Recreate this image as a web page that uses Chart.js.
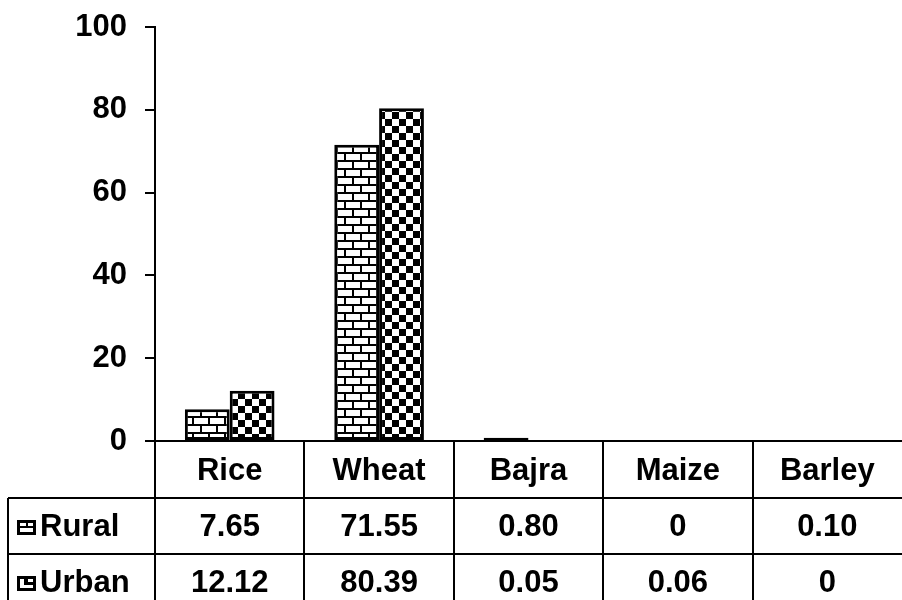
<!DOCTYPE html>
<html>
<head>
<meta charset="utf-8">
<script src="https://cdn.jsdelivr.net/npm/chart.js@4.4.0/dist/chart.umd.min.js"></script>
<style>
  html, body { margin: 0; padding: 0; background: #fff; }
  #wrap { width: 902px; height: 600px; }
</style>
</head>
<body>
<div id="wrap"><canvas id="crops"></canvas></div>
<script>
var crops = ["Rice", "Wheat", "Bajra", "Maize", "Barley"];
var rural = [7.65, 71.55, 0.80, 0, 0.10];
var urban = [12.12, 80.39, 0.05, 0.06, 0];
var seriesNames = ["Rural", "Urban"];
var yTicks = [0, 20, 40, 60, 80, 100];

var FONT = "'Liberation Sans', Arial, sans-serif";
var FSIZE = 31;
var canvas = document.getElementById("crops");
var mainCtx = canvas.getContext("2d");

// excel-ish fill patterns
function brickPattern() {
  var c = document.createElement("canvas");
  c.width = 16; c.height = 16;
  var g = c.getContext("2d");
  g.fillStyle = "#fff"; g.fillRect(0, 0, 16, 16);
  g.fillStyle = "#000";
  g.fillRect(0, 0, 16, 2);
  g.fillRect(0, 8, 16, 2);
  g.fillRect(0, 0, 2, 8);
  g.fillRect(8, 8, 2, 8);
  return mainCtx.createPattern(c, "repeat");
}

function checkerPattern() {
  var c = document.createElement("canvas");
  c.width = 14; c.height = 14;
  var g = c.getContext("2d");
  g.fillStyle = "#fff"; g.fillRect(0, 0, 14, 14);
  g.fillStyle = "#000";
  g.fillRect(0, 0, 7, 7);
  g.fillRect(7, 7, 7, 7);
  return mainCtx.createPattern(c, "repeat");
}

function fmt(v) {
  return v === 0 ? "0" : v.toFixed(2);
}

function drawIcon(ctx, kind, x, y) {
  ctx.fillStyle = "#000";
  ctx.fillRect(x, y - 7, 19, 15);
  ctx.fillStyle = "#fff";
  if (kind === 0) {
    ctx.fillRect(x + 3, y - 4, 6, 3);
    ctx.fillRect(x + 11, y - 4, 5, 3);
    ctx.fillRect(x + 3, y + 1, 13, 4);
  } else {
    ctx.fillRect(x + 3, y - 4, 4, 9);
    ctx.fillRect(x + 11, y - 4, 5, 3);
    ctx.fillRect(x + 7, y + 2, 9, 3);
  }
}

// draws the data table under the plot
var tablePlugin = {
  id: "dataTable",
  afterDraw: function (chart) {
    var ctx = chart.ctx;
    var area = chart.chartArea;
    var xs = chart.scales.x;
    var n = crops.length;
    var colW = (area.right - area.left) / n;
    var top = area.bottom;
    var rowH = 57;
    var leftEdge = 8;
    var rows = [rural, urban];

    ctx.save();
    ctx.strokeStyle = "#000";
    ctx.lineWidth = 2;
    ctx.beginPath();
    for (var i = 0; i < n; i++) {
      var bx = Math.round(xs.getPixelForValue(i) - colW / 2);
      ctx.moveTo(bx, top);
      ctx.lineTo(bx, chart.height);
    }
    ctx.moveTo(leftEdge, top + rowH);
    ctx.lineTo(leftEdge, chart.height);
    ctx.moveTo(leftEdge, top + rowH);
    ctx.lineTo(area.right, top + rowH);
    ctx.moveTo(leftEdge, top + rowH * 2 - 1);
    ctx.lineTo(area.right, top + rowH * 2 - 1);
    ctx.stroke();

    ctx.fillStyle = "#000";
    ctx.font = "bold " + FSIZE + "px " + FONT;
    ctx.textBaseline = "middle";
    ctx.textAlign = "center";
    for (var j = 0; j < n; j++) {
      var cx = xs.getPixelForValue(j);
      ctx.fillText(crops[j], cx, top + 30);
      for (var r = 0; r < rows.length; r++) {
        ctx.fillText(fmt(rows[r][j]), cx, top + 86 + r * 56);
      }
    }
    ctx.textAlign = "left";
    for (var k = 0; k < seriesNames.length; k++) {
      var ry = top + 86 + k * 56;
      drawIcon(ctx, k, 17, ry);
      ctx.fillStyle = "#000";
      ctx.fillText(seriesNames[k], 40, ry);
    }
    ctx.restore();
  }
};

new Chart(canvas, {
  type: "bar",
  data: {
    labels: crops,
    datasets: [
      {
        label: seriesNames[0],
        data: rural,
        backgroundColor: brickPattern(),
        borderColor: "#000",
        borderWidth: 3,
        borderSkipped: false,
        inflateAmount: 0,
      },
      {
        label: seriesNames[1],
        data: urban,
        backgroundColor: checkerPattern(),
        borderColor: "#000",
        borderWidth: 3,
        borderSkipped: false,
        inflateAmount: 0,
      },
    ],
  },
  options: {
    responsive: true,
    maintainAspectRatio: false,
    animation: false,
    events: [],
    categoryPercentage: 0.6,
    barPercentage: 1.0,
    layout: { padding: { top: 27, right: 0, bottom: 159, left: 0 } },
    plugins: {
      legend: { display: false },
      tooltip: { enabled: false },
    },
    scales: {
      x: {
        ticks: { display: false },
        grid: { display: false },
        border: { display: true, color: "#000", width: 2 },
        afterFit: function (s) { s.height = 0; },
      },
      y: {
        min: 0,
        max: 100,
        afterBuildTicks: function (s) {
          s.ticks = yTicks.map(function (v) { return { value: v }; });
        },
        ticks: {
          color: "#000",
          padding: 18,
          font: { family: FONT, size: FSIZE, weight: "bold" },
        },
        grid: { drawOnChartArea: false, drawTicks: true, tickLength: 10, color: "#000", lineWidth: 2 },
        border: { display: true, color: "#000", width: 2 },
        afterFit: function (s) {
          s.width = 155;
          s.paddingTop = 0;
          s.paddingBottom = 0;
        },
      },
    },
  },
  plugins: [tablePlugin],
});
</script>
</body>
</html>
